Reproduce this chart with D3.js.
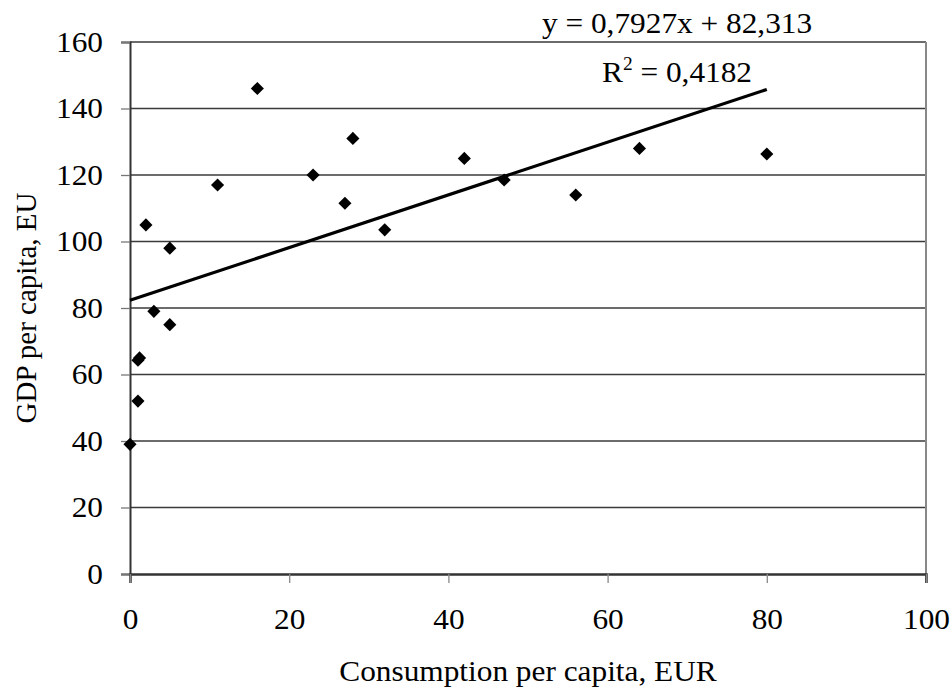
<!DOCTYPE html>
<html>
<head>
<meta charset="utf-8">
<script src="https://cdn.jsdelivr.net/npm/d3@7"></script>
<style>
  body { margin: 0; background: #fff; }
  text { font-family: "Liberation Serif", "Times New Roman", serif; fill: #000; }
</style>
</head>
<body>
<div id="chartWrap"></div>
<script>
// consumption per capita (EUR) and GDP per capita
const consumption = [0, 1, 1, 1.2, 2, 3, 5, 5, 11, 16, 23, 27, 28, 32, 42, 47, 56, 64, 80];
const gdp = [39, 52, 64.3, 65, 105, 79, 75, 98, 117, 146, 120, 111.5, 131, 103.5, 125, 118.5, 114, 128, 126.3];

const xTicks = [0, 20, 40, 60, 80, 100];
const yTicks = [0, 20, 40, 60, 80, 100, 120, 140, 160];

// linear trend as printed on the chart
const trendSlope = [0.7927];
const trendIntercept = [82.313];
const equationLabel = 'y = 0,7927x + 82,313';
const r2Value = '0,4182';

const xTitle = 'Consumption per capita, EUR';
const yTitle = 'GDP per capita, EU';

const W = 951, H = 690;
const margin = { top: 42, right: 25, bottom: 116, left: 130 };
const fontSize = '29px';
const stretch = 'scale(1.08,1)';

const svg = d3.select('#chartWrap')
  .append('svg')
  .attr('width', W)
  .attr('height', H);

const x = d3.scaleLinear().domain([0, 100]).range([margin.left, W - margin.right]);
const y = d3.scaleLinear().domain([0, 160]).range([H - margin.bottom, margin.top]);

// horizontal grid lines
svg.append('g')
  .selectAll('line')
  .data(yTicks.filter((d) => d > 0))
  .enter()
  .append('line')
  .attr('x1', x(0))
  .attr('x2', x(100))
  .attr('y1', (d) => y(d))
  .attr('y2', (d) => y(d))
  .style('stroke', '#3a3a3a')
  .style('stroke-width', 1.3);

// right edge of the plot box
svg.append('line')
  .attr('x1', x(100))
  .attr('x2', x(100))
  .attr('y1', y(160))
  .attr('y2', y(0) + 9)
  .style('stroke', '#888')
  .style('stroke-width', 2);

// y axis
const yAxis = svg.append('g')
  .attr('transform', `translate(${x(0)},0)`)
  .call(d3.axisLeft(y).tickValues(yTicks).tickSize(9).tickPadding(16).tickFormat(d3.format('d')));
yAxis.select('.domain').style('stroke', '#333').style('stroke-width', 2);
yAxis.selectAll('.tick line').style('stroke', '#777').style('stroke-width', 1.3);
yAxis.selectAll('text')
  .style('font-size', fontSize)
  .style('font-family', '"Liberation Serif", serif')
  .attr('transform', stretch);

// x axis
const xAxis = svg.append('g')
  .attr('transform', `translate(0,${y(0)})`)
  .call(d3.axisBottom(x).tickValues(xTicks).tickSize(9).tickPadding(25).tickFormat(d3.format('d')));
xAxis.select('.domain').style('stroke', '#333').style('stroke-width', 2.5);
xAxis.selectAll('.tick line').style('stroke', '#888').style('stroke-width', 1.3);
xAxis.selectAll('text')
  .style('font-size', fontSize)
  .style('font-family', '"Liberation Serif", serif')
  .attr('transform', stretch);

// trend line over the data range
const xMin = d3.min(consumption), xMax = d3.max(consumption);
svg.append('line')
  .attr('x1', x(xMin))
  .attr('y1', y(trendIntercept[0] + trendSlope[0] * xMin))
  .attr('x2', x(xMax))
  .attr('y2', y(trendIntercept[0] + trendSlope[0] * xMax))
  .style('stroke', '#000')
  .style('stroke-width', 3.2);

// diamond markers
const diamond = d3.symbol().type(d3.symbolSquare).size(86);
svg.append('g')
  .selectAll('path')
  .data(consumption.map((c, i) => ({ c, g: gdp[i] })))
  .enter()
  .append('path')
  .attr('d', diamond)
  .attr('transform', (d) => `translate(${x(d.c)},${y(d.g)}) rotate(45)`)
  .style('fill', '#000');

// equation and R squared
svg.append('text')
  .attr('transform', `translate(542,33) ${stretch}`)
  .style('font-size', fontSize)
  .text(equationLabel);

const r2 = svg.append('text')
  .attr('transform', `translate(602,82) ${stretch}`)
  .style('font-size', fontSize);
r2.append('tspan').text('R');
r2.append('tspan').attr('dy', -12).style('font-size', '18px').text('2');
r2.append('tspan').attr('dy', 12).text(` = ${r2Value}`);

// axis titles
svg.append('text')
  .attr('transform', `translate(${(x(0) + x(100)) / 2},681) ${stretch}`)
  .attr('text-anchor', 'middle')
  .style('font-size', fontSize)
  .text(xTitle);

svg.append('text')
  .attr('transform', `translate(36,${(y(0) + y(160)) / 2}) rotate(-90)`)
  .attr('text-anchor', 'middle')
  .style('font-size', fontSize)
  .text(yTitle);
</script>
</body>
</html>
